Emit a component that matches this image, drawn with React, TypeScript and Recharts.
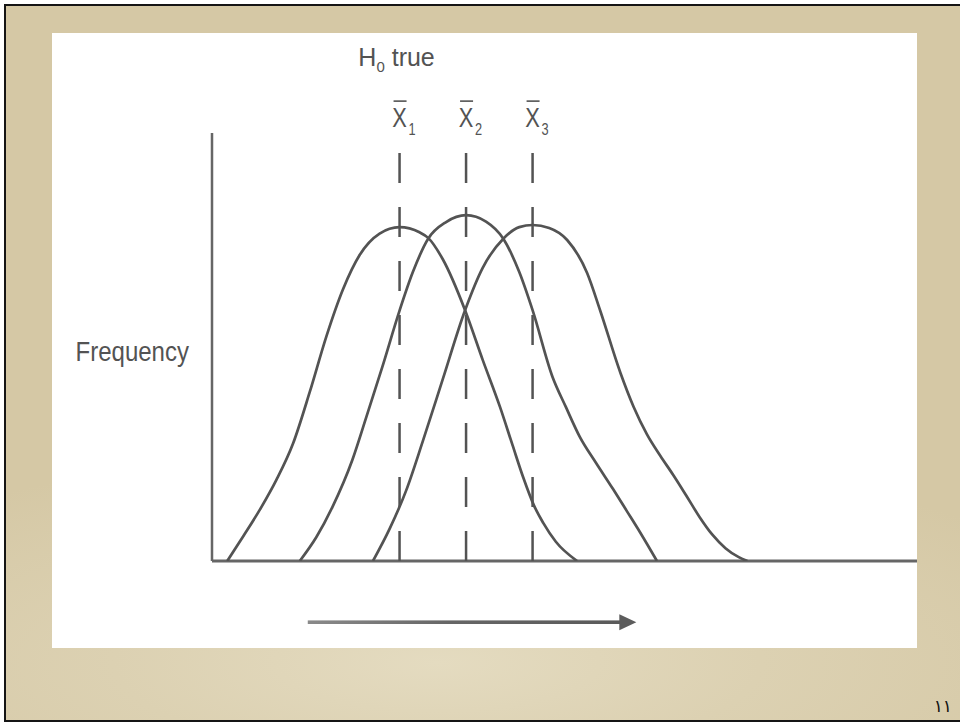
import React from 'react';
import { ComposedChart, Line, XAxis, YAxis, ReferenceLine } from 'recharts';

// Sampling distributions of three group means (x = score, y = frequency)
const curve1 = [
  { x: -25.9, y: 0 },
  { x: -23.5, y: 5.8 },
  { x: -21.0, y: 12.0 },
  { x: -18.5, y: 19.0 },
  { x: -16.0, y: 27.5 },
  { x: -13.5, y: 39.5 },
  { x: -11.0, y: 52.5 },
  { x: -8.5, y: 63.5 },
  { x: -6.0, y: 71.5 },
  { x: -3.0, y: 76.5 },
  { x: 0, y: 78.0 },
  { x: 3.0, y: 76.8 },
  { x: 4.3, y: 75.5 },
  { x: 6.5, y: 70.5 },
  { x: 9.85, y: 58.6 },
  { x: 12.5, y: 47.0 },
  { x: 15.1, y: 36.0 },
  { x: 17.0, y: 27.0 },
  { x: 18.6, y: 19.5 },
  { x: 20.2, y: 13.0 },
  { x: 21.6, y: 8.9 },
  { x: 23.5, y: 4.5 },
  { x: 26.7, y: 0 },
];

const curve2 = [
  { x: -15.0, y: 0 },
  { x: -12.5, y: 5.6 },
  { x: -10.1, y: 12.6 },
  { x: -7.1, y: 23.6 },
  { x: -5.0, y: 33.6 },
  { x: -2.6, y: 45.3 },
  { x: 0, y: 58.5 },
  { x: 2.0, y: 67.5 },
  { x: 4.3, y: 75.3 },
  { x: 7.0, y: 79.2 },
  { x: 10, y: 80.8 },
  { x: 13.0, y: 79.3 },
  { x: 15.6, y: 75.3 },
  { x: 18.0, y: 67.5 },
  { x: 20.0, y: 58.6 },
  { x: 23.0, y: 43.0 },
  { x: 25.0, y: 36.0 },
  { x: 27.1, y: 29.0 },
  { x: 29.5, y: 23.0 },
  { x: 32.1, y: 16.8 },
  { x: 34.2, y: 11.6 },
  { x: 36.2, y: 6.6 },
  { x: 38.7, y: 0 },
];

const curve3 = [
  { x: -4.0, y: 0 },
  { x: -1.5, y: 7.5 },
  { x: 1.0, y: 16.5 },
  { x: 3.5, y: 28.0 },
  { x: 6.5, y: 42.5 },
  { x: 9.85, y: 58.6 },
  { x: 12.5, y: 68.5 },
  { x: 15.6, y: 75.3 },
  { x: 18.0, y: 78.0 },
  { x: 20, y: 78.5 },
  { x: 22.5, y: 77.8 },
  { x: 25.2, y: 75.0 },
  { x: 28.2, y: 67.3 },
  { x: 30.15, y: 58.6 },
  { x: 33.2, y: 44.0 },
  { x: 35.2, y: 36.0 },
  { x: 37.2, y: 29.6 },
  { x: 39.2, y: 24.6 },
  { x: 41.1, y: 20.2 },
  { x: 43.1, y: 15.3 },
  { x: 45.1, y: 10.3 },
  { x: 47.0, y: 6.2 },
  { x: 49.0, y: 3.0 },
  { x: 51.0, y: 0.9 },
  { x: 52.3, y: 0 },
];

// Group means and their subscripts
const means = [0, 10, 20];
const meanSubscripts = ['1', '2', '3'];
const meanLineTop = 96;

// Direction arrow under the axis
const arrowStart = { x: -13.8, y: -14.3 };
const arrowEnd = { x: 35.6, y: -14.3 };

const xDomain = [-28.2, 77.8];
const yDomain = [0, 100];

const INK = '#535353';
const AXIS = '#666666';
const FONT = '"Liberation Sans", Arial, Helvetica, sans-serif';

const MeanLabel = (props: any) => {
  const { viewBox, sub, showHypothesis } = props;
  if (!viewBox) return null;
  const cx = viewBox.x;
  const top = viewBox.y;
  const base = top - 23;
  return (
    <g fill={INK} style={{ fontFamily: FONT }}>
      {showHypothesis && (
        <text transform={`translate(${cx - 3},${top - 84})`} textAnchor="middle" fontSize={25}>
          H<tspan fontSize={15} dy={6}>0</tspan>
          <tspan dy={-6}> true</tspan>
        </text>
      )}
      <line x1={cx - 6} x2={cx + 7} y1={base - 26} y2={base - 26} stroke={INK} strokeWidth={1.6} />
      <text transform={`translate(${cx},${base}) scale(0.78,1)`} textAnchor="middle" fontSize={28}>
        X
      </text>
      <text transform={`translate(${cx + 9},${base + 8}) scale(0.8,1)`} fontSize={16}>
        {sub}
      </text>
    </g>
  );
};

const FrequencyLabel = (props: any) => {
  const { viewBox } = props;
  if (!viewBox) return null;
  const x = viewBox.x - 23;
  const y = viewBox.y + viewBox.height / 2 + 14;
  return (
    <text
      transform={`translate(${x},${y}) scale(0.89,1)`}
      textAnchor="end"
      fontSize={27}
      fill={INK}
      style={{ fontFamily: FONT }}
    >
      Frequency
    </text>
  );
};

const ArrowShape = (props: any) => {
  const { x1, y1, x2, y2 } = props;
  const head = 17;
  return (
    <g>
      <defs>
        <linearGradient id="arrowShade" x1="0" x2="1" y1="0" y2="0">
          <stop offset="0%" stopColor="#8a8a8a" />
          <stop offset="45%" stopColor="#666666" />
          <stop offset="100%" stopColor="#5a5a5a" />
        </linearGradient>
      </defs>
      <rect x={x1} y={y1 - 1.8} width={x2 - head + 2 - x1} height={3.6} fill="url(#arrowShade)" />
      <polygon
        points={`${x2 - head},${y2 - 8} ${x2},${y2} ${x2 - head},${y2 + 8}`}
        fill="#5c5c5c"
      />
    </g>
  );
};

export default function App() {
  return (
    <div
      style={{
        position: 'absolute',
        left: 0,
        top: 0,
        width: 960,
        height: 724,
        background: '#ffffff',
        overflow: 'hidden',
      }}
    >
      <div
        style={{
          position: 'absolute',
          left: 4,
          top: 4,
          width: 960,
          height: 718,
          boxSizing: 'border-box',
          borderTop: '2px solid #151515',
          borderLeft: '2px solid #151515',
          borderBottom: '2px solid #151515',
          background:
            'radial-gradient(ellipse 75% 30% at 45% 92%, #e4dbc0 0%, #dcd1b2 45%, rgba(214,201,166,0) 100%), #d5c8a5',
        }}
      />
      <div
        style={{
          position: 'absolute',
          left: 52,
          top: 33,
          width: 865,
          height: 615,
          background: '#ffffff',
        }}
      >
        <ComposedChart width={865} height={615} margin={{ top: 100, right: 0, bottom: 87, left: 160 }}>
          <XAxis type="number" dataKey="x" domain={xDomain} allowDataOverflow hide />
          <YAxis type="number" domain={yDomain} allowDataOverflow hide />
          {/* axis lines */}
          <ReferenceLine y={0} stroke={AXIS} strokeWidth={3} />
          <ReferenceLine x={xDomain[0]} stroke={AXIS} strokeWidth={2.5} label={<FrequencyLabel />} />
          {means.map((m, i) => (
            <ReferenceLine
              key={`mean-${i}`}
              segment={[
                { x: m, y: 0 },
                { x: m, y: meanLineTop },
              ]}
              stroke={INK}
              strokeWidth={2.5}
              strokeDasharray="30 24"
              ifOverflow="visible"
              label={<MeanLabel sub={meanSubscripts[i]} showHypothesis={i === 0} />}
            />
          ))}
          <Line data={curve1} dataKey="y" type="monotone" dot={false} stroke={INK} strokeWidth={2.7} isAnimationActive={false} />
          <Line data={curve2} dataKey="y" type="monotone" dot={false} stroke={INK} strokeWidth={2.7} isAnimationActive={false} />
          <Line data={curve3} dataKey="y" type="monotone" dot={false} stroke={INK} strokeWidth={2.7} isAnimationActive={false} />
          <ReferenceLine segment={[arrowStart, arrowEnd]} ifOverflow="visible" shape={<ArrowShape />} />
        </ComposedChart>
      </div>
      <div
        style={{
          position: 'absolute',
          right: 8,
          top: 696,
          fontSize: 17,
          color: '#111',
          fontFamily: '"DejaVu Sans", sans-serif',
        }}
      >
        ١١
      </div>
    </div>
  );
}
